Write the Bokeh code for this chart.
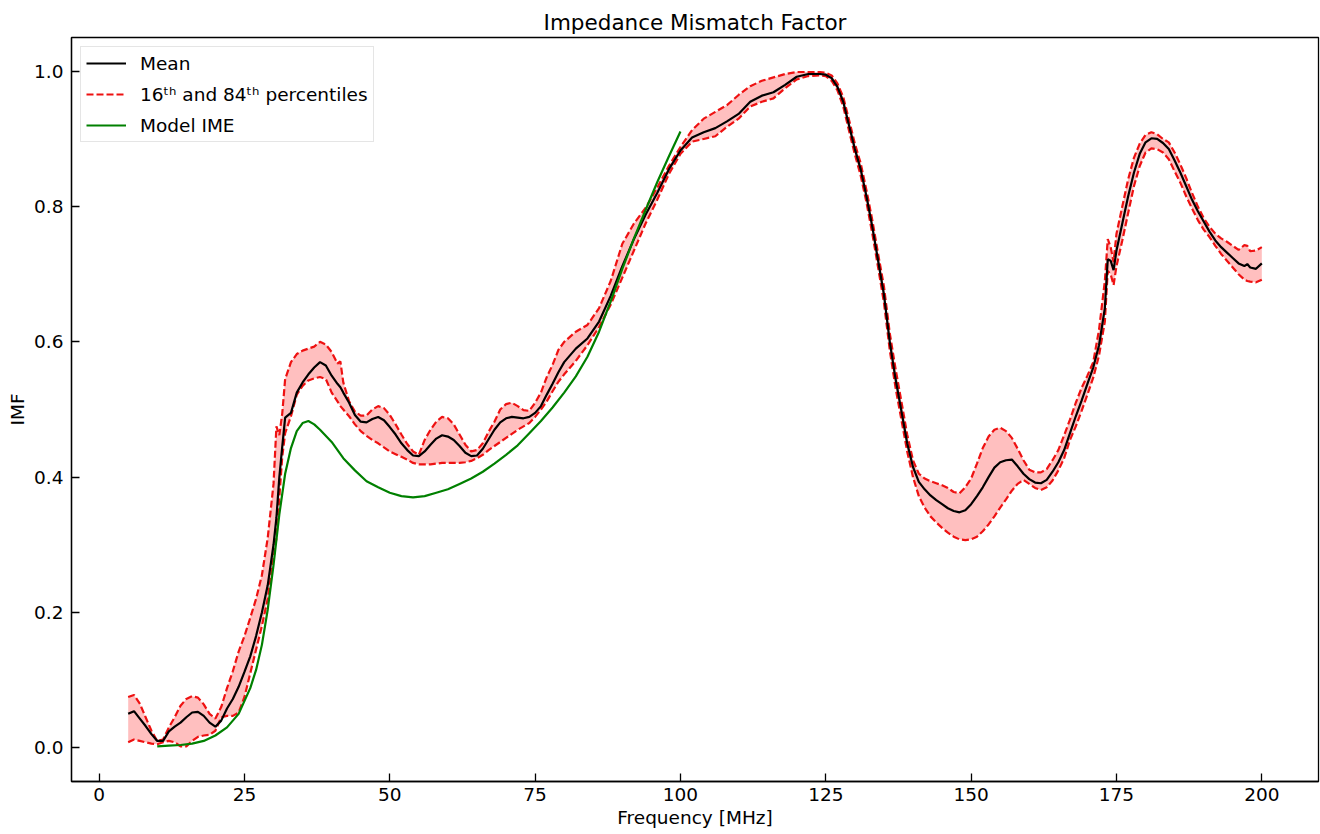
from bokeh.plotting import figure
from bokeh.models import FixedTicker, PrintfTickFormatter, Legend, LegendItem, Range1d
from bokeh.embed import file_html
from bokeh.resources import INLINE

# ---------------- data ----------------
freq = [5, 6, 7, 8, 9, 10, 11, 12, 13, 14, 15, 16, 17, 18, 19, 20, 21, 22, 23, 24,
        25, 26, 27, 28, 29, 30, 30.5, 31, 31.5, 32, 33, 34, 35, 36, 37, 38, 39, 40,
        41, 41.5, 42, 43, 44, 45, 46, 47, 48, 49, 50, 51, 52, 53, 54, 55, 56, 57, 58,
        59, 60, 61, 62, 63, 64, 65, 66, 67, 68, 69, 70, 71, 72, 73, 74, 75, 76, 77,
        78, 79, 80, 82, 84, 86, 88, 90, 92, 94, 96, 98, 100, 102, 104, 106, 108, 110,
        112, 114, 116, 118, 120, 122, 124, 125, 126, 127, 128, 129, 130, 131, 132,
        133, 134, 135, 136, 137, 138, 139, 140, 141, 142, 143, 144, 145, 146, 147,
        148, 149, 150, 151, 152, 153, 154, 155, 156, 157, 158, 159, 160, 161, 162,
        163, 164, 165, 166, 167, 168, 169, 170, 171, 172, 173, 173.5, 174, 174.5, 175,
        176, 177, 178, 179, 180, 181, 182, 183, 184, 185, 186, 187, 188, 189, 190,
        191, 192, 193, 194, 195, 196, 197, 197.5, 198, 199, 200]

imf_mean = [0.050, 0.054, 0.043, 0.032, 0.020, 0.010, 0.010, 0.024, 0.031, 0.037,
            0.045, 0.052, 0.053, 0.047, 0.037, 0.031, 0.040, 0.058, 0.072, 0.090,
            0.112, 0.135, 0.165, 0.200, 0.240, 0.300, 0.340, 0.400, 0.445, 0.488,
            0.495, 0.525, 0.540, 0.552, 0.562, 0.570, 0.565, 0.550, 0.538, 0.533,
            0.525, 0.510, 0.492, 0.482, 0.481, 0.486, 0.489, 0.484, 0.474, 0.463,
            0.450, 0.440, 0.432, 0.431, 0.438, 0.448, 0.457, 0.462, 0.460, 0.455,
            0.446, 0.436, 0.431, 0.432, 0.442, 0.456, 0.470, 0.481, 0.487, 0.489,
            0.488, 0.487, 0.489, 0.495, 0.505, 0.522, 0.538, 0.555, 0.570, 0.590,
            0.605, 0.630, 0.668, 0.712, 0.752, 0.788, 0.820, 0.855, 0.883, 0.902,
            0.910, 0.916, 0.926, 0.937, 0.955, 0.964, 0.969, 0.980, 0.992, 0.996,
            0.996, 0.995, 0.990, 0.977, 0.955, 0.920, 0.885, 0.855, 0.815, 0.770,
            0.720, 0.670, 0.600, 0.545, 0.498, 0.450, 0.415, 0.393, 0.382, 0.373,
            0.366, 0.360, 0.354, 0.350, 0.348, 0.351, 0.360, 0.372, 0.385, 0.400,
            0.414, 0.422, 0.425, 0.426, 0.416, 0.405, 0.397, 0.392, 0.391, 0.396,
            0.408, 0.422, 0.440, 0.465, 0.490, 0.513, 0.538, 0.562, 0.595, 0.650,
            0.722, 0.720, 0.706, 0.735, 0.775, 0.815, 0.850, 0.878, 0.895, 0.901,
            0.900, 0.894, 0.885, 0.868, 0.850, 0.830, 0.810, 0.793, 0.778, 0.763,
            0.750, 0.740, 0.732, 0.724, 0.716, 0.712, 0.715, 0.710, 0.708, 0.716]

imf_p84 = [0.075, 0.078, 0.065, 0.045, 0.025, 0.010, 0.012, 0.030, 0.045, 0.062,
           0.072, 0.076, 0.074, 0.064, 0.050, 0.043, 0.060, 0.088, 0.113, 0.142,
           0.165, 0.192, 0.220, 0.255, 0.310, 0.390, 0.475, 0.462, 0.494, 0.545,
           0.570, 0.582, 0.587, 0.590, 0.593, 0.600, 0.596, 0.585, 0.568, 0.571,
           0.540, 0.512, 0.497, 0.491, 0.491, 0.500, 0.505, 0.502, 0.492, 0.478,
           0.463, 0.449, 0.438, 0.433, 0.455, 0.470, 0.482, 0.489, 0.487, 0.478,
           0.463, 0.448, 0.438, 0.440, 0.450, 0.467, 0.482, 0.500, 0.508, 0.510,
           0.505, 0.499, 0.498, 0.510, 0.525, 0.548, 0.566, 0.588, 0.600, 0.615,
           0.625, 0.650, 0.690, 0.745, 0.775, 0.798, 0.828, 0.860, 0.888, 0.913,
           0.930, 0.940, 0.950, 0.965, 0.978, 0.986, 0.991, 0.996, 0.999, 0.999,
           0.999, 0.998, 0.994, 0.982, 0.962, 0.928, 0.893, 0.864, 0.824, 0.780,
           0.730, 0.682, 0.613, 0.560, 0.512, 0.463, 0.425, 0.405, 0.398, 0.394,
           0.391, 0.388, 0.384, 0.378, 0.376, 0.385, 0.398, 0.420, 0.443, 0.460,
           0.470, 0.473, 0.468, 0.458, 0.442, 0.425, 0.411, 0.407, 0.407, 0.412,
           0.425, 0.440, 0.462, 0.485, 0.510, 0.532, 0.550, 0.570, 0.618, 0.690,
           0.752, 0.740, 0.718, 0.760, 0.800, 0.840, 0.872, 0.893, 0.906, 0.910,
           0.907, 0.900, 0.895, 0.880, 0.862, 0.842, 0.820, 0.800, 0.783, 0.770,
           0.760, 0.753, 0.748, 0.742, 0.736, 0.743, 0.742, 0.734, 0.735, 0.740]

imf_p16 = [0.008, 0.012, 0.010, 0.008, 0.006, 0.005, 0.008, 0.010, 0.008, 0.002,
           0.002, 0.010, 0.016, 0.018, 0.019, 0.025, 0.045, 0.047, 0.047, 0.052,
           0.075, 0.110, 0.145, 0.180, 0.220, 0.280, 0.310, 0.370, 0.430, 0.465,
           0.490, 0.522, 0.535, 0.543, 0.546, 0.548, 0.545, 0.525, 0.512, 0.505,
           0.500, 0.490, 0.478, 0.468, 0.461, 0.455, 0.450, 0.444, 0.438, 0.434,
           0.430, 0.426, 0.421, 0.419, 0.419, 0.419, 0.420, 0.421, 0.421, 0.421,
           0.421, 0.422, 0.424, 0.428, 0.433, 0.440, 0.446, 0.452, 0.458, 0.464,
           0.470, 0.475, 0.480, 0.489, 0.500, 0.512, 0.527, 0.541, 0.552, 0.572,
           0.595, 0.622, 0.655, 0.695, 0.735, 0.775, 0.810, 0.848, 0.878, 0.896,
           0.900, 0.904, 0.918, 0.930, 0.948, 0.955, 0.960, 0.975, 0.988, 0.993,
           0.994, 0.993, 0.986, 0.972, 0.948, 0.912, 0.877, 0.846, 0.806, 0.760,
           0.710, 0.658, 0.588, 0.532, 0.485, 0.438, 0.400, 0.372, 0.355, 0.342,
           0.333, 0.325, 0.318, 0.312, 0.308, 0.307, 0.308, 0.312, 0.320, 0.330,
           0.342, 0.355, 0.367, 0.380, 0.390, 0.396, 0.390, 0.384, 0.381, 0.385,
           0.395, 0.410, 0.428, 0.455, 0.475, 0.498, 0.522, 0.547, 0.580, 0.630,
           0.705, 0.700, 0.684, 0.712, 0.750, 0.790, 0.830, 0.860, 0.880, 0.886,
           0.885, 0.880, 0.870, 0.852, 0.835, 0.815, 0.797, 0.780, 0.766, 0.755,
           0.742, 0.730, 0.720, 0.710, 0.700, 0.692, 0.690, 0.689, 0.688, 0.692]

model_freq = [10, 12, 14, 16, 18, 20, 22, 24, 26, 27, 28, 29, 30, 31, 32, 33, 34, 35,
              36, 37, 38, 40, 42, 44, 46, 48, 50, 52, 54, 56, 58, 60, 62, 64, 66, 68,
              70, 72, 74, 76, 78, 80, 82, 84, 86, 88, 90, 92, 94, 96, 98, 100]
model_ime = [0.002, 0.003, 0.004, 0.006, 0.010, 0.018, 0.030, 0.050, 0.088, 0.115,
             0.152, 0.204, 0.270, 0.345, 0.405, 0.443, 0.468, 0.480, 0.483, 0.478,
             0.470, 0.452, 0.428, 0.410, 0.394, 0.385, 0.377, 0.372, 0.370, 0.372,
             0.377, 0.382, 0.390, 0.398, 0.408, 0.420, 0.433, 0.447, 0.465, 0.483,
             0.503, 0.525, 0.549, 0.578, 0.615, 0.660, 0.708, 0.753, 0.795, 0.836,
             0.874, 0.911]

x_ticks = [0, 25, 50, 75, 100, 125, 150, 175, 200]
y_ticks = [0.0, 0.2, 0.4, 0.6, 0.8, 1.0]

title_text = "Impedance Mismatch Factor"
x_label = "Frequency [MHz]"
y_label = "IMF"
legend_labels = ["Mean", "16\u1d57\u02b0 and 84\u1d57\u02b0 percentiles", "Model IME"]

# ---------------- figure ----------------
FONT = "DejaVu Sans"
LBL = "18.5px"

p = figure(width=1320, height=834, output_backend="svg", toolbar_location=None,
           x_range=Range1d(-4.75, 209.75), y_range=Range1d(-0.05, 1.05),
           min_border_left=71, min_border_right=2, min_border_top=37,
           min_border_bottom=53)

p.title.text = title_text
p.title.align = "center"
p.title.text_font = FONT
p.title.text_font_size = "21.5px"
p.title.text_font_style = "normal"
p.title.text_color = "black"
p.title.offset = 0
p.title.standoff = 5

p.grid.visible = False
p.background_fill_color = "white"
p.border_fill_color = "white"
p.outline_line_color = "black"
p.outline_line_width = 1.3
p.outline_line_alpha = 1

for ax in (p.xaxis[0], p.yaxis[0]):
    ax.major_tick_in = 8
    ax.major_tick_out = 0
    ax.minor_tick_in = 0
    ax.minor_tick_out = 0
    ax.major_tick_line_color = "black"
    ax.major_tick_line_width = 1.3
    ax.axis_line_color = "black"
    ax.axis_line_width = 1.3
    ax.major_label_text_font = FONT
    ax.major_label_text_font_size = LBL
    ax.major_label_text_color = "black"
    ax.axis_label_text_font = FONT
    ax.axis_label_text_font_size = LBL
    ax.axis_label_text_font_style = "normal"
    ax.axis_label_text_color = "black"

p.xaxis.ticker = FixedTicker(ticks=x_ticks)
p.yaxis.ticker = FixedTicker(ticks=y_ticks)
p.yaxis.formatter = PrintfTickFormatter(format="%.1f")
p.xaxis.axis_label = x_label
p.yaxis.axis_label = y_label
p.xaxis.major_label_standoff = 6
p.yaxis.major_label_standoff = 8
p.xaxis.axis_label_standoff = 3
p.yaxis.axis_label_standoff = 3

# band
p.varea(x=freq, y1=imf_p16, y2=imf_p84, fill_color="#ff0000", fill_alpha=0.25)
r_lo = p.line(freq, imf_p16, line_color="#ee1111", line_width=2.2, line_dash="7 3")
r_hi = p.line(freq, imf_p84, line_color="#ee1111", line_width=2.2, line_dash="7 3")
r_mean = p.line(freq, imf_mean, line_color="black", line_width=2.2)
r_model = p.line(model_freq, model_ime, line_color="#008000", line_width=2.2)

legend = Legend(items=[LegendItem(label=legend_labels[0], renderers=[r_mean]),
                       LegendItem(label=legend_labels[1], renderers=[r_hi]),
                       LegendItem(label=legend_labels[2], renderers=[r_model])],
                location="top_left")
legend.label_text_font = FONT
legend.label_text_font_size = LBL
legend.label_text_color = "black"
legend.glyph_width = 40
legend.glyph_height = 22
legend.label_height = 22
legend.label_standoff = 14
legend.spacing = 9
legend.padding = 5
legend.margin = 9
legend.border_line_color = "#cccccc"
legend.border_line_width = 1
legend.background_fill_alpha = 0.8
p.add_layout(legend)

open("out.html", "w").write(file_html(p, INLINE))
